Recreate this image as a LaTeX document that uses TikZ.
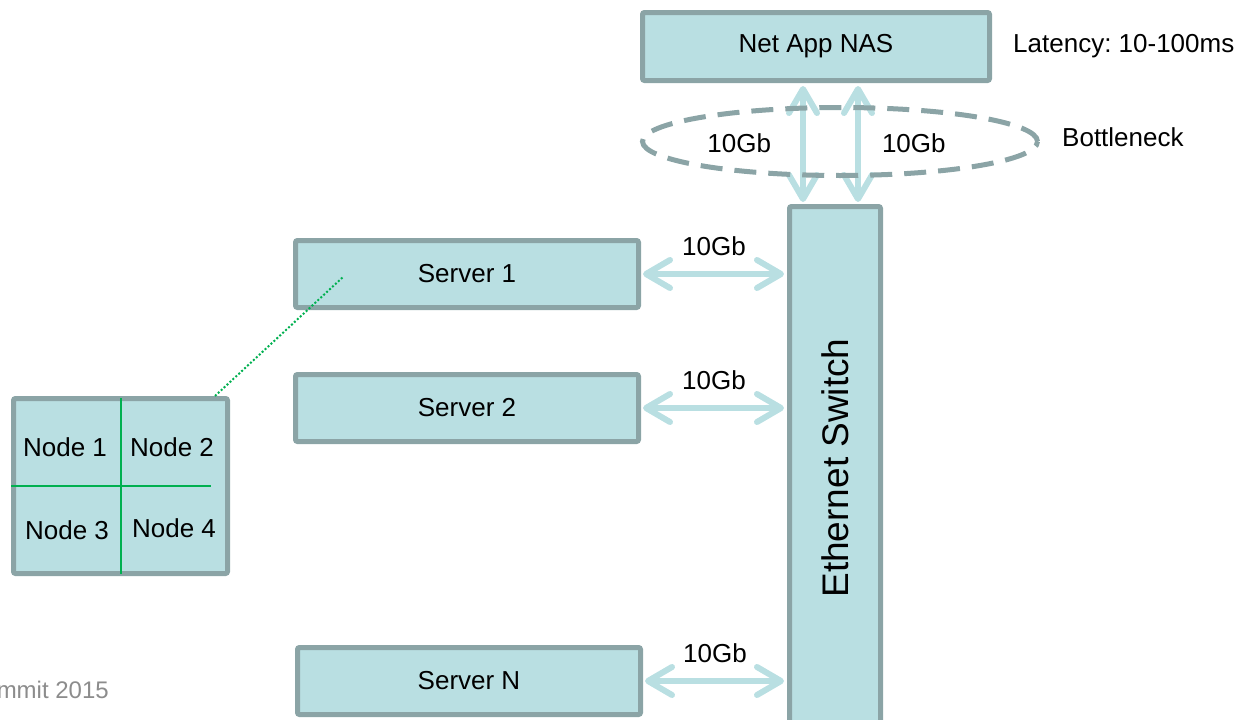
\documentclass[tikz,border=0pt]{standalone}
\usepackage{fontspec}
\setmainfont{Liberation Sans}
\usetikzlibrary{arrows.meta,positioning,shapes.geometric}
\definecolor{boxfill}{HTML}{B9DFE2}
\definecolor{boxline}{HTML}{8BA4A6}
\definecolor{nodegreen}{HTML}{00B050}
\definecolor{footgray}{HTML}{8C8C8C}
\frenchspacing

\begin{document}
\begin{tikzpicture}[
    x=1pt, y=-1pt,
    font=\fontsize{26}{30}\selectfont,
    unit/.style={draw=boxline, fill=boxfill, line width=5pt, rounded corners=2pt, minimum width=343pt, minimum height=67pt, inner sep=0pt},
    link/.style={draw=boxfill, line width=6pt, >={Straight Barb[length=24pt,width=28pt,round]}, <->, shorten <=2pt, shorten >=3pt},
    rate/.style={inner sep=2pt}
]
\clip (0,0) rectangle (1242,720);

% storage and switch
\node[unit, minimum width=347pt, minimum height=68pt] (nas) at (816,46.5) {Net App NAS};
\node[rate, right=19pt of nas.east] (lat) {Latency: 10-100ms};
\node[unit, minimum width=91pt, minimum height=523pt] (sw) at (835,468) {};
\node[rotate=90, font=\fontsize{37}{40}\selectfont] (swtext) at (sw.center) {Ethernet Switch};

% servers
\node[unit] (s1) at (467,274) {Server 1};
\node[unit, below=62pt of s1] (s2) {Server 2};
\node[unit] (sN) at (469,681) {Server N};

% cluster inside a server
\node[unit, minimum width=214pt, minimum height=175pt] (cl) at (120.5,486) {};
\node (nd1) at (65,447) {Node 1};
\node (nd2) at (172,447) {Node 2};
\node (nd3) at (67,530) {Node 3};
\node (nd4) at (174,528) {Node 4};
\draw[nodegreen, line width=2pt] ([yshift=-2pt]cl.north) -- ([yshift=2pt]cl.south);
\draw[nodegreen, line width=2pt] (cl.west) -- ([xshift=-19pt]cl.east);
\draw[nodegreen, line width=2pt, dash pattern=on 2pt off 2pt] ([xshift=-15pt]cl.north east) -- ([xshift=50pt,yshift=-3pt]s1.west);

% links
\draw[link] (s1.east) -- (s1.east -| sw.west) node[rate, midway, above=13pt] (r1) {10Gb};
\draw[link] (s2.east) -- (s2.east -| sw.west) node[rate, midway, above=13pt] (r2) {10Gb};
\draw[link] (sN.east) -- (sN.east -| sw.west) node[rate, midway, above=13pt] (rN) {10Gb};

\coordinate (up1) at ([xshift=16pt]sw.north west);
\coordinate (up2) at ([xshift=-25pt]sw.north east);
\draw[link] (up1) -- (up1 |- nas.south) node[rate, midway, left=27pt] (ru1) {10Gb};
\draw[link] (up2) -- (up2 |- nas.south) node[rate, midway, right=19pt] (ru2) {10Gb};

% bottleneck ring
\node[draw=boxline, line width=5pt, dash pattern=on 22pt off 12pt, ellipse, minimum width=395pt, minimum height=68pt, inner sep=0pt] (bneck) at (840,141.5) {};
\node[rate, right=20pt of bneck.east, yshift=4pt] (bottle) {Bottleneck};

\node[anchor=east, inner sep=0pt, text=footgray, font=\fontsize{24}{28}\selectfont] (footer) at (109,690) {Summit 2015};
\end{tikzpicture}
\end{document}
